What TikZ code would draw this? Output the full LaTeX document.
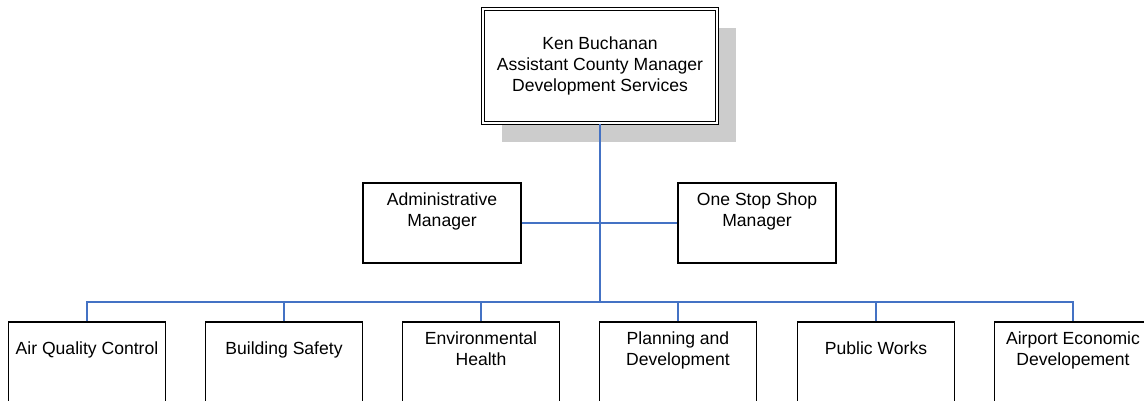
\documentclass[tikz,border=0pt]{standalone}
\usepackage{fontspec}
\setmainfont{Liberation Sans}
\usetikzlibrary{shadows}
\definecolor{orgline}{RGB}{68,114,196}

\tikzset{
  unitbox/.style={draw, fill=white, line width=0.7pt, align=center, font=\fontsize{10}{12}\selectfont,
    minimum width=3.14cm, minimum height=1.6cm},
  headbox/.style={unitbox, double, double distance=0.9pt, minimum width=4.68cm, minimum height=2.28cm,
    drop shadow={shadow xshift=0.38cm, shadow yshift=-0.38cm, fill=black!20, opacity=1}},
  orglink/.style={draw=orgline, line width=0.8pt}
}

\begin{document}
\begin{tikzpicture}[x=0.02cm,y=-0.02cm]
\useasboundingbox (0,0) rectangle (1144,400);

% Assistant County Manager
\node[headbox] (acm) at (600,66) {Ken Buchanan\\Assistant County Manager\\Development Services};

% Staff
\node[unitbox, minimum width=3.16cm] (admin) at (442,223) {Administrative\\Manager\\\strut};
\node[unitbox, minimum width=3.16cm] (oss) at (757,223) {One Stop Shop\\Manager\\\strut};

% Departments
\node[unitbox] (aqc) at (87,362) {Air Quality Control\\\strut};
\node[unitbox] (bs) at (284,362) {Building Safety\\\strut};
\node[unitbox] (eh) at (481,362) {Environmental\\Health\\\strut};
\node[unitbox] (pd) at (678,362) {Planning and\\Development\\\strut};
\node[unitbox] (pw) at (876,362) {Public Works\\\strut};
\node[unitbox] (aed) at (1073,362) {Airport Economic\\Developement\\\strut};

% Lines
\coordinate (bus) at (600,302);
\draw[orglink] (acm.south) -- (bus);
\draw[orglink] (admin.east) -- (oss.west);
\draw[orglink] (aqc.north) |- (bus) -| (aed.north);
\draw[orglink] (bs.north) -- (bs.north |- bus);
\draw[orglink] (eh.north) -- (eh.north |- bus);
\draw[orglink] (pd.north) -- (pd.north |- bus);
\draw[orglink] (pw.north) -- (pw.north |- bus);
\end{tikzpicture}
\end{document}
